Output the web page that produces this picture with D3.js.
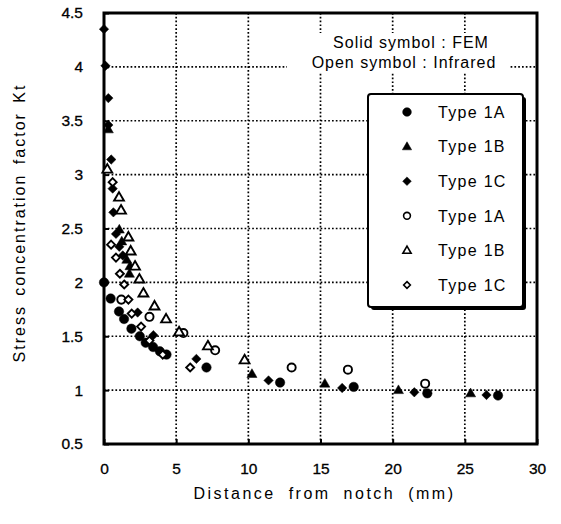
<!DOCTYPE html>
<html>
<head>
<meta charset="utf-8">
<script src="https://cdn.jsdelivr.net/npm/d3@7"></script>
<style>
  body { margin: 0; background: #fff; }
  svg { display: block; font-family: "Liberation Sans", Arial, sans-serif; }
</style>
</head>
<body>
<svg width="561" height="524"></svg>
<script>
// data: [distance (mm), Kt]
const fem1A = [[0,2.0],[0.46,1.85],[1.04,1.73],[1.39,1.66],[1.9,1.57],[2.48,1.5],[2.89,1.44],[3.4,1.4],[3.87,1.36],[4.33,1.33],[7.1,1.21],[12.2,1.07],[17.3,1.03],[22.4,0.97],[27.3,0.95]];
const fem1B = [[0.3,3.42],[1.06,2.49],[1.23,2.38],[1.58,2.21],[1.8,2.15],[1.76,2.08],[10.25,1.15],[15.3,1.06],[20.4,1.0],[25.4,0.97]];
const fem1C = [[0,4.35],[0.1,4.01],[0.3,3.71],[0.3,3.46],[0.5,3.14],[0.6,2.87],[0.65,2.65],[0.83,2.45],[1.06,2.33],[1.3,2.25],[2.33,1.72],[3.42,1.51],[6.4,1.29],[11.4,1.09],[16.5,1.02],[21.5,0.98],[26.5,0.955]];
const ir1A = [[1.2,1.84],[3.15,1.68],[5.5,1.53],[7.7,1.37],[13.0,1.21],[16.9,1.19],[22.25,1.06]];
const ir1B = [[0.23,3.05],[1.04,2.79],[1.18,2.67],[1.69,2.42],[1.85,2.29],[2.15,2.15],[2.45,2.03],[2.73,1.9],[3.5,1.78],[4.3,1.66],[5.2,1.54],[7.2,1.41],[9.74,1.28]];
const ir1C = [[0.6,2.93],[0.49,2.35],[0.83,2.23],[1.1,2.08],[1.4,1.98],[1.69,1.84],[1.92,1.71],[2.57,1.59],[3.15,1.46],[4.07,1.33],[5.97,1.21]];

const xTicks = [0, 5, 10, 15, 20, 25, 30];
const yTicks = [0.5, 1, 1.5, 2, 2.5, 3, 3.5, 4, 4.5];
const legendLabels = ["Type 1A", "Type 1B", "Type 1C", "Type 1A", "Type 1B", "Type 1C"];

const svg = d3.select("svg");
const margin = {top: 13, right: 24, bottom: 80, left: 104};
const width = 561 - margin.left - margin.right;
const height = 524 - margin.top - margin.bottom;
const g = svg.append("g").attr("transform", `translate(${margin.left},${margin.top})`);

const x = d3.scaleLinear().domain([0, 30]).range([0, width]);
const y = d3.scaleLinear().domain([0.5, 4.5]).range([height, 0]);

// dotted grid
g.append("g").selectAll("line")
  .data(xTicks.slice(1, -1)).enter().append("line")
  .attr("x1", d => x(d)).attr("x2", d => x(d))
  .attr("y1", 0).attr("y2", height)
  .attr("stroke", "#000").attr("stroke-width", 1.7).attr("stroke-dasharray", "1.7,2.1");
g.append("g").selectAll("line")
  .data(yTicks.slice(1, -1)).enter().append("line")
  .attr("y1", d => y(d)).attr("y2", d => y(d))
  .attr("x1", 0).attr("x2", width)
  .attr("stroke", "#000").attr("stroke-width", 1.7).attr("stroke-dasharray", "1.7,2.1");

// axes with short inward ticks
const xAxis = g.append("g").attr("transform", `translate(0,${height})`)
  .call(d3.axisBottom(x).tickValues(xTicks).tickSize(-5).tickPadding(19).tickFormat(d3.format("d")));
const yAxis = g.append("g")
  .call(d3.axisLeft(y).tickValues(yTicks).tickSize(-5).tickPadding(21).tickFormat(d => d));
[xAxis, yAxis].forEach(a => {
  a.select(".domain").remove();
  a.selectAll(".tick line").attr("stroke", "#000").attr("stroke-width", 2);
  a.selectAll("text").attr("fill", "#000").attr("font-size", 15.5)
    .attr("stroke", "#000").attr("stroke-width", 0.3)
    .attr("font-family", "'Liberation Sans', Arial, sans-serif");
});

// frame
g.append("rect").attr("width", width).attr("height", height)
  .attr("fill", "none").attr("stroke", "#000").attr("stroke-width", 3);

// annotation text (white box hides the grid)
g.append("rect").attr("x", 183).attr("y", 20).attr("width", 222).attr("height", 40).attr("fill", "#fff");
const note = g.append("text").attr("text-anchor", "middle").attr("font-size", 16)
  .attr("letter-spacing", 1).attr("fill", "#000");
note.append("tspan").attr("x", 307).attr("y", 35).text("Solid symbol : FEM");
note.append("tspan").attr("x", 300).attr("y", 55).text("Open symbol : Infrared");

// symbols
const diamond = {
  draw(ctx, size) {
    const r = Math.sqrt(size / 2);
    ctx.moveTo(0, -r); ctx.lineTo(r, 0); ctx.lineTo(0, r); ctx.lineTo(-r, 0); ctx.closePath();
  }
};
const triangle = {
  draw(ctx, size) {
    const s = Math.sqrt(size * 4 / Math.sqrt(3));
    const h = s * Math.sqrt(3) / 2;
    ctx.moveTo(0, -h * 0.6); ctx.lineTo(s / 2, h * 0.4); ctx.lineTo(-s / 2, h * 0.4); ctx.closePath();
  }
};
const series = [
  {data: fem1A, type: d3.symbolCircle, size: 70, open: false},
  {data: fem1B, type: triangle, size: 44, open: false},
  {data: fem1C, type: diamond, size: 44, open: false},
  {data: ir1A, type: d3.symbolCircle, size: 52, open: true},
  {data: ir1B, type: triangle, size: 42, open: true},
  {data: ir1C, type: diamond, size: 32, open: true}
];

series.forEach(s => {
  g.append("g").selectAll("path")
    .data(s.data).enter().append("path")
    .attr("transform", d => `translate(${x(d[0])},${y(d[1])})`)
    .attr("d", d3.symbol().type(s.type).size(s.size))
    .attr("fill", s.open ? "#fff" : "#000")
    .attr("stroke", "#000").attr("stroke-width", s.open ? 1.9 : 0.5);
});

// legend
const lg = g.append("g").attr("transform", "translate(264,81)");
lg.append("rect").attr("x", 3).attr("y", 3).attr("width", 155).attr("height", 213).attr("fill", "#000").attr("rx", 3);
lg.append("rect").attr("width", 155).attr("height", 213).attr("fill", "#fff")
  .attr("stroke", "#000").attr("stroke-width", 2).attr("rx", 3);
const rows = lg.selectAll("g.row").data(series).enter().append("g")
  .attr("transform", (d, i) => `translate(39,${18 + i * 34.6})`);
rows.append("path")
  .attr("d", d => d3.symbol().type(d.type).size(d.open ? d.size * 0.7 : d.size * 0.85)())
  .attr("fill", d => d.open ? "#fff" : "#000")
  .attr("stroke", "#000").attr("stroke-width", d => d.open ? 1.6 : 0.5);
rows.append("text").attr("x", 31).attr("dy", "0.36em").attr("font-size", 16)
  .attr("letter-spacing", 1.3).attr("fill", "#000")
  .text((d, i) => legendLabels[i]);

// axis titles
svg.append("text").attr("x", margin.left + width / 2 + 4).attr("y", 499)
  .attr("text-anchor", "middle").attr("font-size", 16)
  .attr("letter-spacing", 2.5).attr("word-spacing", 6).attr("fill", "#000")
  .text("Distance from notch (mm)");
svg.append("text").attr("transform", "translate(25,223) rotate(-90)")
  .attr("text-anchor", "middle").attr("font-size", 16)
  .attr("letter-spacing", 2).attr("word-spacing", 3).attr("fill", "#000")
  .text("Stress concentration factor  Kt");
</script>
</body>
</html>
